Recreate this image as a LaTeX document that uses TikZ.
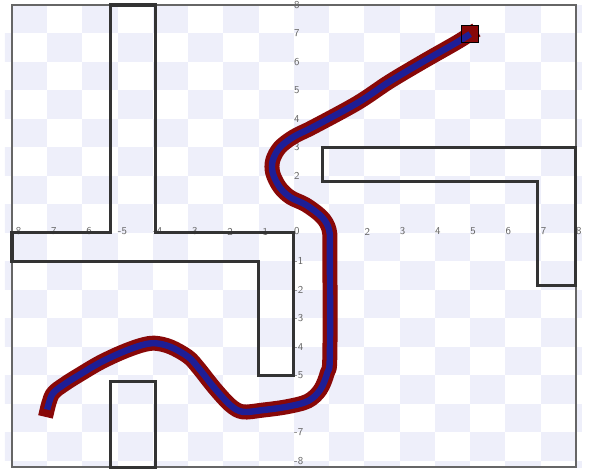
\documentclass[tikz,border=0pt]{standalone}
\usepackage{tikz}
\definecolor{routered}{HTML}{880808}
\definecolor{routeblue}{HTML}{1E1E96}
\definecolor{tilelav}{HTML}{EEEFFA}
\definecolor{wallgray}{HTML}{333333}

\begin{document}
\begin{tikzpicture}[x=1.0575cm,y=0.855cm,
 tile/.style={fill=tilelav},
 plotframe/.style={draw=black!60,line width=1.2pt},
 wall/.style={draw=wallgray,line width=2.6pt,line join=miter},
 ticklab/.style={anchor=west,inner sep=0pt,font=\fontsize{9}{10}\sffamily,text=black!60},
 route/.style={draw=routered,line width=12.8pt,line cap=rect,line join=round},
 routecore/.style={draw=routeblue,line width=5.5pt,line join=round},
 goal/.style={rectangle,draw=black,line width=1.3pt,minimum size=14.4pt,inner sep=0pt}]
\useasboundingbox (-8.34,-8.316) rectangle (8.43,8.175);

% Checkered background
\begin{scope}
\clip (-8.2,-8.22) rectangle (8.17,8);
\foreach \i in {-9,...,8}
 \foreach \j in {-9,...,7}
  {\ifodd\numexpr\i+\j\relax \fill[tile] (\i,\j) rectangle ++(1,1); \fi}
\end{scope}
\draw[plotframe] (-8,-8.22) rectangle (8,8);

% Axis numbers
\foreach \x in {-8,...,8}
 \node[ticklab] (xl\x) at (\x,0.05) {\x};
\foreach \y in {-8,...,-1,1,2,...,8}
 \node[ticklab] (yl\y) at (0,\y) {\y};

% Obstacles
\draw[wall] (-8,0) -- (-5.2,0) -- (-5.2,8) -- (-3.93,8) -- (-3.93,0) -- (0,0)
 -- (0,-5) -- (-1,-5) -- (-1,-1) -- (-8,-1) -- cycle;
\draw[wall] (0.8,3) -- (8,3) -- (8,-1.85) -- (6.9,-1.85) -- (6.9,1.8) -- (0.8,1.8) -- cycle;
\draw[wall] (-5.2,-8.22) rectangle (-3.93,-5.2);

% Planned route from start to goal
\coordinate (start) at (-7,-6.2);
\node[goal,fill=routered] (goal) at (5,6.98) {};
\foreach \sty in {route,routecore}
 \draw[\sty] plot[smooth,tension=0.55] coordinates {(start) (-6.85,-5.65) (-6.5,-5.3)
  (-6.05,-4.95) (-5.5,-4.55) (-4.9,-4.2) (-4.35,-3.95) (-3.95,-3.87) (-3.5,-4.0)
  (-3.0,-4.35) (-2.7,-4.75) (-2.25,-5.45) (-1.8,-6.05) (-1.45,-6.28) (-0.9,-6.22)
  (-0.2,-6.1) (0.4,-5.9) (0.75,-5.5) (0.95,-4.9) (1.02,-4.3) (1.02,-0.6) (1.0,0.1)
  (0.8,0.55) (0.35,0.98) (-0.1,1.25) (-0.4,1.6) (-0.6,2.1) (-0.6,2.55) (-0.4,3.0)
  (0,3.38) (0.55,3.72) (1.8,4.56) (2.7,5.3) (3.65,6.0) (4.6,6.67) (goal)};
\node[goal] at (goal) {};
\end{tikzpicture}
\end{document}
